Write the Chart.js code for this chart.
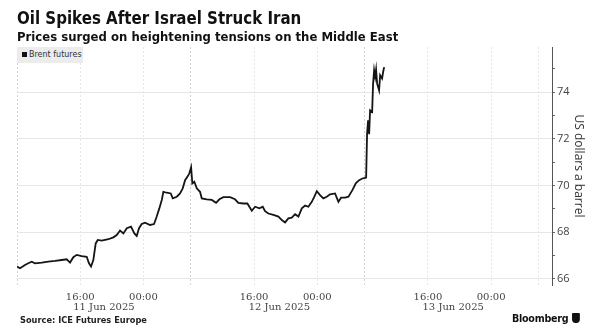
<!DOCTYPE html>
<html>
<head>
<meta charset="utf-8">
<script src="https://cdn.jsdelivr.net/npm/chart.js@4"></script>
<style>
  html, body { margin: 0; padding: 0; background: #fff; }
  #wrap { position: relative; width: 600px; height: 335px; overflow: hidden; }
  canvas { position: absolute; left: 0; top: 0; }
  .txt { position: absolute; white-space: nowrap; transform-origin: 0 0; }
  #title { left: 17px; top: 8px; font: bold 17px "DejaVu Sans"; color: #111; transform: scaleX(0.885); }
  #subtitle { left: 17px; top: 29px; font: bold 12.5px "DejaVu Sans"; color: #111; transform: scaleX(0.935); }
  #legend { left: 17px; top: 47px; width: 66px; height: 16px; background: #ececec; font: 8px "DejaVu Sans"; color: #333; line-height: 16px; }
  #legend span { display: inline-block; width: 5px; height: 5px; background: #111; margin: 0 2px 0 5px; vertical-align: 0px; }
  #source { left: 20px; top: 315px; font: bold 8.5px "DejaVu Sans"; color: #222; transform: scaleX(0.97); }
  #brand { left: 512px; top: 312px; font: bold 11px "DejaVu Sans"; color: #111; letter-spacing: -0.3px; transform: scaleX(0.87); }
  #brand i { display: inline-block; width: 9px; height: 10px; background: #111; border-radius: 1px 1px 4px 4px; margin-left: 4px; vertical-align: -1px; }
</style>
</head>
<body>
<div id="wrap">
  <canvas id="chart" width="600" height="335"></canvas>
  <div class="txt" id="title">Oil Spikes After Israel Struck Iran</div>
  <div class="txt" id="subtitle">Prices surged on heightening tensions on the Middle East</div>
  <div class="txt" id="legend"><span></span>Brent futures</div>
  <div class="txt" id="source">Source: ICE Futures Europe</div>
  <div class="txt" id="brand">Bloomberg<i></i></div>
</div>
<script>
// trading hours since the first session opened (overnight gap removed)
const hours = [0, 0.38, 1.01, 1.43, 1.86, 2.28, 3.13, 3.96, 4.81, 5.66, 6.29, 6.71, 7.13, 7.56,
  8.19, 8.82, 9.11, 9.37, 9.66, 9.96, 10.22, 10.72, 11.56, 12.19, 12.62, 13.04, 13.46, 13.89,
  14.43, 14.85, 15.15, 15.44, 15.78, 16.20, 16.84, 17.34, 17.68, 18.01, 18.32, 18.52, 18.95,
  19.46, 19.71, 20.22, 20.63, 20.97, 21.27, 21.56, 21.81, 22.03, 22.19, 22.44, 22.75, 23.16,
  23.38, 24.01, 24.65, 25.19, 25.61, 26.11, 26.96, 27.59, 28.01, 28.65, 29.15, 29.71, 30.13,
  30.67, 31.10, 31.39, 31.81, 32.44, 33.08, 33.51, 33.92, 34.34, 34.77, 35.19, 35.61, 36.04,
  36.46, 36.87, 37.30, 37.63, 37.94, 38.35, 38.77, 39.20, 39.62, 40.25, 40.67, 41.01, 41.52,
  41.94, 42.44, 42.87, 43.29, 43.71, 44.05, 44.18, 44.30, 44.43, 44.56, 44.68, 44.94, 45.06,
  45.19, 45.32, 45.44, 45.57, 45.82, 45.95, 46.20, 46.33, 46.46];
const prices = [66.53, 66.46, 66.60, 66.67, 66.74, 66.67, 66.70, 66.74, 66.77, 66.81, 66.84, 66.70, 66.93, 67.03,
  66.98, 66.95, 66.67, 66.53, 66.81, 67.52, 67.67, 67.64, 67.70, 67.78, 67.88, 68.07, 67.95, 68.17,
  68.24, 67.95, 67.84, 68.17, 68.35, 68.41, 68.31, 68.35, 68.67, 69.02, 69.38, 69.73, 69.69,
  69.66, 69.45, 69.52, 69.66, 69.88, 70.23, 70.37, 70.52, 70.78, 70.09, 70.16, 69.88, 69.73,
  69.45, 69.41, 69.38, 69.26, 69.41, 69.50, 69.50, 69.41, 69.26, 69.23, 69.23, 68.92, 69.09,
  69.02, 69.09, 68.90, 68.80, 68.74, 68.67, 68.52, 68.42, 68.59, 68.62, 68.77, 68.67, 69.02,
  69.14, 69.09, 69.30, 69.52, 69.76, 69.59, 69.45, 69.52, 69.62, 69.66, 69.30, 69.48, 69.48,
  69.52, 69.80, 70.09, 70.23, 70.30, 70.33, 70.34, 72.23, 72.79, 72.20, 73.22, 73.15, 74.36,
  74.93, 74.65, 74.96, 74.36, 74.07, 74.72, 74.58, 74.86, 75.07];

const tickHours = [0, 8, 16, 22, 30, 38, 44, 52, 60, 66];
const tickLabels = ['', '16:00', '00:00', '', '16:00', '00:00', '', '16:00', '00:00', ''];
const dateHours = [11, 33.2, 55.2];
const dateLabels = ['11 Jun 2025', '12 Jun 2025', '13 Jun 2025'];
const yTicks = [66, 67, 68, 69, 70, 71, 72, 73, 74, 75];

// second row of x labels (dates), placed through the x scale
const dateRow = {
  id: 'dateRow',
  afterDraw(chart) {
    const x = chart.scales.x;
    const ctx = chart.ctx;
    ctx.save();
    ctx.font = '10px "DejaVu Serif"';
    ctx.fillStyle = '#444';
    ctx.textAlign = 'center';
    ctx.textBaseline = 'middle';
    dateLabels.forEach((d, i) => ctx.fillText(d, x.getPixelForValue(dateHours[i]), 307));
    ctx.restore();
  }
};

new Chart(document.getElementById('chart'), {
  type: 'line',
  data: {
    datasets: [{
      label: 'Brent futures',
      data: hours.map((h, i) => ({ x: h, y: prices[i] })),
      borderColor: '#151515',
      borderWidth: 1.8,
      pointRadius: 0,
      tension: 0
    }]
  },
  options: {
    responsive: false,
    animation: false,
    layout: { padding: { left: 17, top: 47, right: 14, bottom: 18 } },
    plugins: { legend: { display: false }, tooltip: { enabled: false } },
    scales: {
      x: {
        type: 'linear',
        min: 0,
        max: 67.7,
        afterBuildTicks: s => { s.ticks = tickHours.map(v => ({ value: v })); },
        afterFit: s => { s.height = 32; },
        grid: {
          drawTicks: false,
          color: ctx => [0, 22, 44].includes(ctx.tick && ctx.tick.value) ? '#d4d4d4' : '#e6e6e6'
        },
        border: { display: false, dash: [2, 2] },
        ticks: {
          autoSkip: false,
          maxRotation: 0,
          padding: 6,
          color: '#444',
          font: { family: 'DejaVu Serif', size: 10 },
          callback: v => tickLabels[tickHours.indexOf(v)] || ''
        }
      },
      y: {
        position: 'right',
        min: 65.74,
        max: 75.93,
        afterBuildTicks: s => { s.ticks = yTicks.map(v => ({ value: v })); },
        afterFit: s => { s.width = 34; },
        grid: {
          color: ctx => ctx.tick && ctx.tick.value % 2 === 0 ? '#e6e6e6' : 'rgba(0,0,0,0)',
          tickColor: '#666',
          tickLength: 3
        },
        border: { display: true, color: '#555', width: 1 },
        ticks: {
          padding: 2,
          color: '#444',
          font: { family: 'Open Sans', size: 11 },
          callback: v => v % 2 === 0 ? String(v) : ''
        },
        title: {
          display: true,
          text: 'US dollars a barrel',
          color: '#333',
          font: { family: 'Open Sans', size: 12 },
          padding: { top: 0, bottom: 4 }
        }
      }
    }
  },
  plugins: [dateRow]
});
</script>
</body>
</html>
